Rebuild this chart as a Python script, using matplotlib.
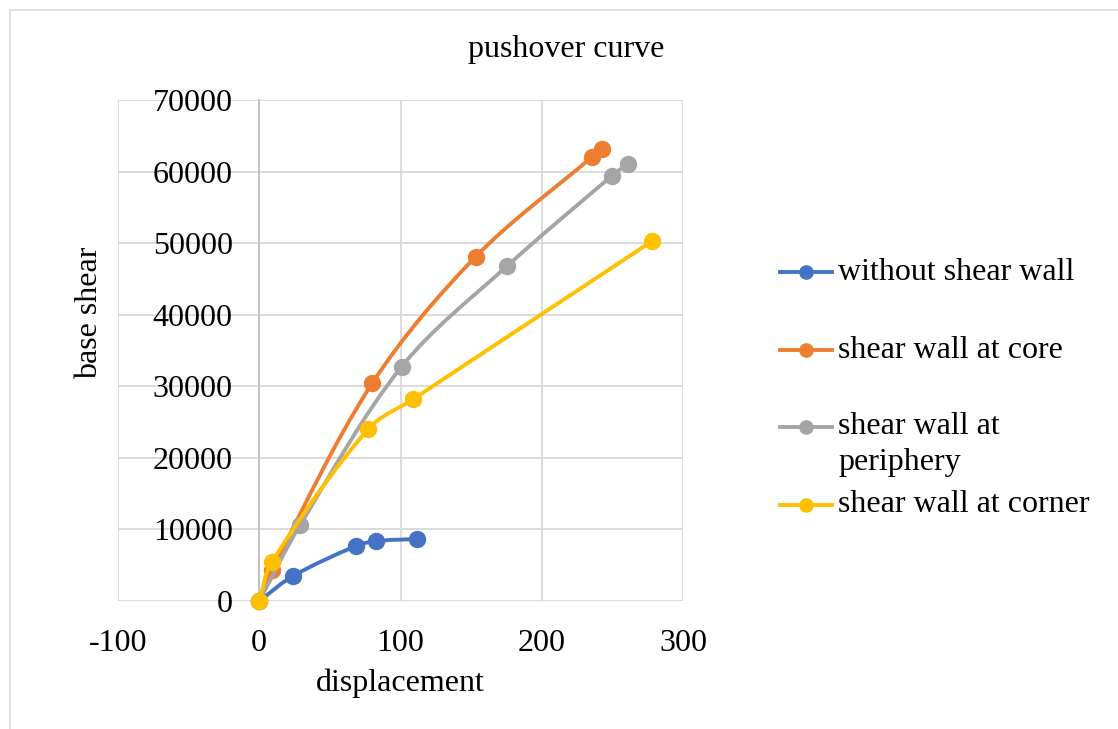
import numpy as np
import matplotlib
matplotlib.use("Agg")
import matplotlib.pyplot as plt
from matplotlib.path import Path
from matplotlib.patches import PathPatch, Rectangle
from matplotlib.lines import Line2D

plt.rcParams['font.family'] = ['Liberation Serif', 'DejaVu Serif']
plt.rcParams['axes.unicode_minus'] = False

# pushover data
disp_no_wall = [0, 23.9, 68.5, 82.6, 111.7]
shear_no_wall = [0, 3490, 7690, 8380, 8660]

disp_core = [0, 8.8, 80.0, 153.2, 235.8, 242.4]
shear_core = [0, 4330, 30420, 48100, 62080, 63150]

disp_periphery = [0, 28.9, 100.8, 175.5, 249.5, 260.8]
shear_periphery = [0, 10620, 32740, 46810, 59380, 61100]

disp_corner = [0, 8.8, 77.2, 109.1, 278.3]
shear_corner = [0, 5400, 24030, 28220, 50300]

series_labels = ["without shear wall", "shear wall at core",
                 "shear wall at\nperiphery", "shear wall at corner"]
series_colors = ["#4472C4", "#ED7D31", "#A5A5A5", "#FFC000"]

x_ticks = [-100, 0, 100, 200, 300]
y_ticks = [0, 10000, 20000, 30000, 40000, 50000, 60000, 70000]

FS = 23
W, H = 1118, 729
AX_W, AX_H = 565, 501


def smooth_path(xs, ys, sx, sy):
    # smoothed line as cubic Beziers; tangents worked out in pixel space,
    # scaled by segment length so short segments don't kink
    pts = np.column_stack([np.asarray(xs) * sx, np.asarray(ys) * sy]).astype(float)
    n = len(pts)
    tang = []
    for i in range(n):
        a = pts[max(i - 1, 0)]
        b = pts[min(i + 1, n - 1)]
        d = b - a
        tang.append(d / (np.hypot(*d) or 1.0))
    verts = [pts[0]]
    codes = [Path.MOVETO]
    for i in range(n - 1):
        seg = np.hypot(*(pts[i + 1] - pts[i]))
        c1 = pts[i] + tang[i] * seg / 3.0
        c2 = pts[i + 1] - tang[i + 1] * seg / 3.0
        verts += [c1, c2, pts[i + 1]]
        codes += [Path.CURVE4] * 3
    verts = np.array(verts)
    verts[:, 0] /= sx
    verts[:, 1] /= sy
    return Path(verts, codes)


fig = plt.figure(figsize=(W / 100, H / 100), dpi=100)

# outer chart frame
fig.add_artist(Rectangle((10 / W, -0.05), 1.2, 1 - 10 / H + 0.05, transform=fig.transFigure,
                         fill=False, edgecolor="#d9d9d9", lw=1.2))

ax = fig.add_axes([118 / W, (H - 601) / H, AX_W / W, AX_H / H])

ax.set_xlim(-100, 300)
ax.set_ylim(0, 70000)
ax.set_xticks(x_ticks)
ax.set_yticks(y_ticks)
ax.grid(True, color="#d9d9d9", lw=1.3)
ax.set_axisbelow(True)
for s in ["top", "right", "bottom"]:
    ax.spines[s].set_visible(False)
ax.spines["left"].set_position(("data", 0))
ax.spines["left"].set_color("#bfbfbf")
ax.spines["left"].set_linewidth(1.3)
ax.tick_params(axis="both", length=0, labelsize=FS)
ax.tick_params(axis="x", pad=20)
ax.tick_params(axis="y", pad=19)

all_x = [disp_no_wall, disp_core, disp_periphery, disp_corner]
all_y = [shear_no_wall, shear_core, shear_periphery, shear_corner]

px_x = AX_W / 400.0
px_y = AX_H / 70000.0
z = 3
for xs, ys, c in zip(all_x, all_y, series_colors):
    ax.add_patch(PathPatch(smooth_path(xs, ys, px_x, px_y), facecolor="none", edgecolor=c,
                           lw=2.8, zorder=z, capstyle="round", joinstyle="round"))
    ax.plot(xs, ys, "o", color=c, ms=11.5, zorder=z + 0.5, clip_on=False)
    z += 1

ax.set_xlabel("displacement", fontsize=FS)
ax.xaxis.set_label_coords(0.5, -0.134)
ax.xaxis.label.set_va("top")
ax.set_ylabel("base shear", fontsize=FS)
ax.yaxis.set_label_coords(-0.025, 0.575)

fig.text(566 / W, 1 - 50 / H, "pushover curve", ha="center", va="center", fontsize=FS)

# legend drawn by hand to match the original spacing
legend_rows = [272, 350, 427, 505]
for label, c, yrow in zip(series_labels, series_colors, legend_rows):
    yf = 1 - yrow / H
    fig.add_artist(Line2D([780 / W, 832 / W], [yf, yf], transform=fig.transFigure,
                          color=c, lw=2.8))
    fig.add_artist(Line2D([806 / W], [yf], transform=fig.transFigure,
                          marker="o", color=c, ms=9.5))
    for k, line in enumerate(label.split("\n")):
        fig.text(838 / W, 1 - (yrow + 36 * k) / H, line, ha="left", va="center",
                 fontsize=FS)

fig.savefig("out.png", dpi=100)
